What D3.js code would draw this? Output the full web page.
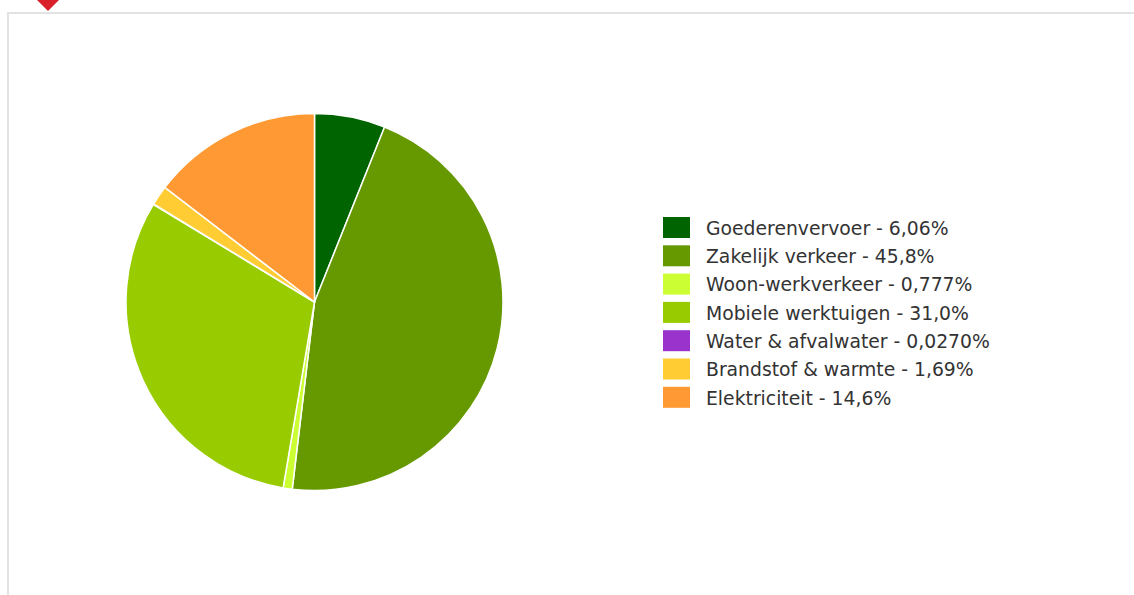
<!DOCTYPE html>
<html>
<head>
<meta charset="utf-8">
<script src="https://cdn.jsdelivr.net/npm/d3@7/dist/d3.min.js"></script>
<style>
html,body{margin:0;padding:0;background:#fff;}
svg{display:block;}
</style>
</head>
<body>
<svg id="chart" width="1134" height="595"></svg>
<script>
const categories = ["Goederenvervoer","Zakelijk verkeer","Woon-werkverkeer","Mobiele werktuigen","Water & afvalwater","Brandstof & warmte","Elektriciteit"];
const values = [6.06, 45.8, 0.777, 31.0, 0.0270, 1.69, 14.6];
const valueLabels = ["6,06%","45,8%","0,777%","31,0%","0,0270%","1,69%","14,6%"];
const colors = ["#006400","#669900","#ccff33","#99cc00","#9933cc","#ffcc33","#ff9933"];

const svg = d3.select("#chart");

// frame
svg.append("rect").attr("x",8).attr("y",13).attr("width",1140).attr("height",600)
  .attr("fill","none").attr("stroke","#e3e3e3").attr("stroke-width",2);
// red marker
svg.append("path").attr("d","M36,-1 L48,11 L60,-1 Z").attr("fill","#d7202a");

const cx = 314.5, cy = 302, r = 188.5;
const pie = d3.pie().sort(null).value(d=>d.v);
const arc = d3.arc().innerRadius(0).outerRadius(r);
const data = categories.map((c,i)=>({c, v: values[i], col: colors[i], lab: valueLabels[i]}));

const g = svg.append("g").attr("transform",`translate(${cx},${cy})`);
g.selectAll("path").data(pie(data)).enter().append("path")
  .attr("d",arc).attr("fill",d=>d.data.col)
  .attr("stroke","#fff").attr("stroke-width",1.5).attr("stroke-linejoin","round");

const y = d3.scaleBand().domain(categories).range([217, 217 + 28.3*categories.length]);
const lg = svg.append("g");
const rows = lg.selectAll("g").data(data).enter().append("g")
  .attr("transform",d=>`translate(663,${y(d.c)})`);
rows.append("rect").attr("width",27).attr("height",21).attr("fill",d=>d.col);
rows.append("text").attr("x",43).attr("y",11).attr("dy","0.36em")
  .attr("font-family","DejaVu Sans").attr("font-size",18.8).attr("fill","#333")
  .text(d=>`${d.c} - ${d.lab}`);
</script>
</body>
</html>
